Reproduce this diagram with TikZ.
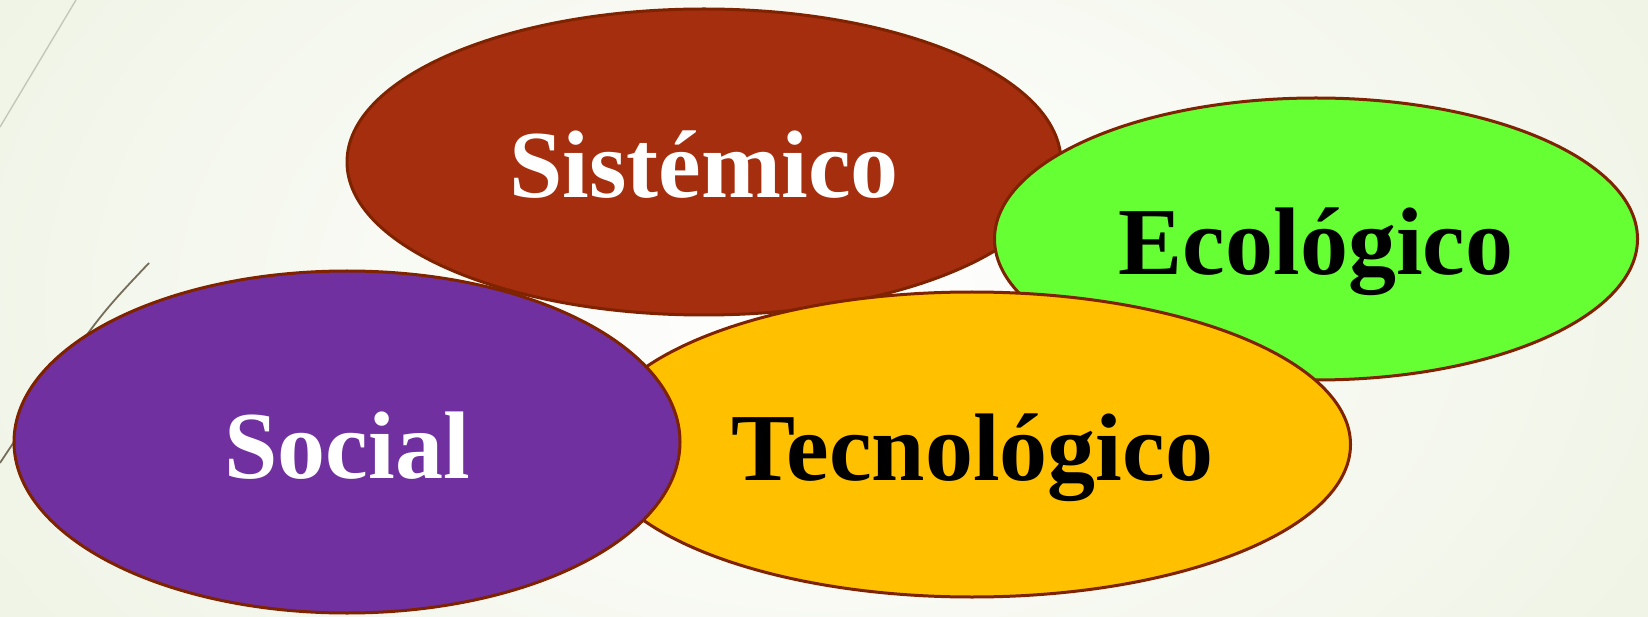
\documentclass[tikz,border=0pt]{standalone}
\usepackage{fontspec}
\setmainfont{Liberation Serif}
\usetikzlibrary{shapes.geometric}
\definecolor{rimred}{HTML}{7F2200}
\definecolor{sisfill}{HTML}{A52E0F}
\definecolor{ecofill}{HTML}{66FF33}
\definecolor{tecfill}{HTML}{FFC000}
\definecolor{socfill}{HTML}{7030A0}
\definecolor{bgedge}{HTML}{E2EACF}
\definecolor{paleline}{HTML}{C4C6B8}
\definecolor{darkline}{HTML}{766E5A}

\begin{document}
\begin{tikzpicture}[x=1pt,y=-1pt,
	blob/.style={ellipse,draw=rimred,line width=3pt,inner sep=0pt,
		font=\fontsize{96}{100}\selectfont\bfseries,text height=72pt,text depth=0pt}]
	\useasboundingbox (0,0) rectangle (1648,617);
	\clip (0,0) rectangle (1648,617);
	% background
	\shade[inner color=white,outer color=bgedge] (820,300) ellipse [x radius=1800,y radius=1200];
	\draw[paleline,line width=1.4pt] (0,127) -- (76,0);
	\draw[darkline,line width=1.8pt] (149,263) .. controls (95,320) .. (0,463);
	% the four fields
	\node[blob,fill=sisfill,text=white,minimum width=714pt,minimum height=306pt] (sis) at (704,162) {Sistémico};
	\node[blob,fill=ecofill,text=black,minimum width=643pt,minimum height=282pt] (eco) at (1316,239) {Ecológico};
	\node[blob,fill=tecfill,text=black,minimum width=757pt,minimum height=305pt] (tec) at (972,444.5) {Tecnológico};
	\node[blob,fill=socfill,text=white,minimum width=666pt,minimum height=342pt] (soc) at (347,442) {Social};
\end{tikzpicture}
\end{document}
